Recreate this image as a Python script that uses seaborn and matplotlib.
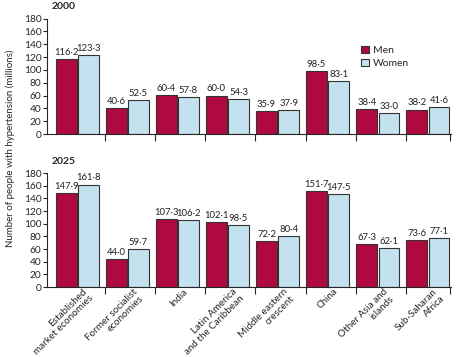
import pandas as pd
import seaborn as sns
import matplotlib.pyplot as plt

regions = [
    "Established\nmarket economies",
    "Former socialist\neconomies",
    "India",
    "Latin America\nand the Caribbean",
    "Middle eastern\ncrescent",
    "China",
    "Other Asia and\nislands",
    "Sub-Saharan\nAfrica",
]
men_2000 = [116.2, 40.6, 60.4, 60.0, 35.9, 98.5, 38.4, 38.2]
women_2000 = [123.3, 52.5, 57.8, 54.3, 37.9, 83.1, 33.0, 41.6]
men_2025 = [147.9, 44.0, 107.3, 102.1, 72.2, 151.7, 67.3, 73.6]
women_2025 = [161.8, 59.7, 106.2, 98.5, 80.4, 147.5, 62.1, 77.1]
yticks = list(range(0, 181, 20))

palette = {"Men": "#b0093f", "Women": "#c4e1ef"}


def long_frame(men, women):
    rows = []
    for r, m, w in zip(regions, men, women):
        rows.append([r, "Men", m])
        rows.append([r, "Women", w])
    return pd.DataFrame(rows, columns=["region", "sex", "value"])


sns.set_style("ticks")
plt.rcParams["font.family"] = ["Lato", "DejaVu Sans"]

fig = plt.figure(figsize=(4.61, 3.57), dpi=100)
ax_top = fig.add_axes([0.102, 0.6246, 0.876, 0.3235])
ax_bot = fig.add_axes([0.102, 0.196, 0.876, 0.3193])

panels = [
    (ax_top, "2000", men_2000, women_2000),
    (ax_bot, "2025", men_2025, women_2025),
]

for ax, year, men, women in panels:
    df = long_frame(men, women)
    sns.barplot(
        data=df, x="region", y="value", hue="sex", palette=palette,
        width=0.885, gap=0.07, edgecolor="#333333", linewidth=0.8,
        saturation=1, ax=ax, legend=(year == "2000"),
    )
    for cont in ax.containers:
        ax.bar_label(
            cont, labels=[f"{v:.1f}".replace(".", "\u00b7") for v in cont.datavalues],
            padding=1.5, fontsize=6.8, color="#222222",
        )
    ax.set_ylim(0, 180)
    ax.set_yticks(yticks)
    ax.tick_params(axis="y", labelsize=7.3, length=3, width=0.8, pad=1)
    # group separators drawn as ticks below the axis
    seps = [i - 0.4425 for i in range(1, 8)] + [7.4425]
    ax.set_xticks(seps)
    ax.set_xticklabels([""] * len(seps))
    ax.tick_params(axis="x", which="major", length=5, width=0.8)
    ax.set_xlim(-0.605, 7.46)
    ax.set_xlabel("")
    ax.set_ylabel("")
    for side in ["top", "right"]:
        ax.spines[side].set_visible(False)
    for side in ["left", "bottom"]:
        ax.spines[side].set_linewidth(0.8)
    ax.text(0.012, 1.08, year, transform=ax.transAxes, fontsize=7.5,
            fontweight="bold", ha="left", va="baseline")

ax_bot.set_xticks([i + 0.1 for i in range(len(regions))], minor=True)
ax_bot.set_xticklabels(regions, minor=True, rotation=45, ha="right",
                       va="top", rotation_mode="anchor", fontsize=7.1,
                       multialignment="right", linespacing=1.1)
ax_bot.tick_params(axis="x", which="minor", length=0, pad=0)

ax_top.legend(loc="upper left", bbox_to_anchor=(0.765, 0.81), frameon=False,
              fontsize=7.5, handlelength=0.75, handleheight=0.75,
              handletextpad=0.4, labelspacing=0.35, borderpad=0)

fig.text(0.022, 0.585, "Number of people with hypertension (millions)",
         rotation=90, ha="center", va="center", fontsize=7)

fig.savefig("out.png", dpi=100)
